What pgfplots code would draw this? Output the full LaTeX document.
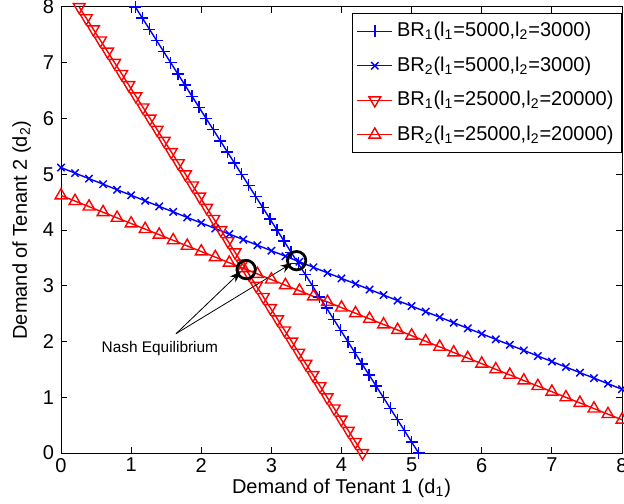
\documentclass[border=0pt]{standalone}
\usepackage{fontspec}
\setmainfont{Liberation Sans}
\usepackage{pgfplots}
\pgfplotsset{compat=1.18}
\usetikzlibrary{arrows.meta}

\begin{document}
\begin{tikzpicture}
\useasboundingbox (-30.5pt,-25pt) rectangle (281.5pt,226.5pt);
\begin{axis}[
  at={(0pt,0pt)}, anchor=south west,
  scale only axis,
  width=280.5pt, height=223pt,
  xmin=0, xmax=8, ymin=0, ymax=8,
  xtick={0,...,8}, ytick={0,...,8},
  tick align=inside,
  major tick length=3pt,
  axis line style={line width=0.5pt},
  every tick/.style={line width=0.5pt, black},
  /pgf/number format/assume math mode=true,
  ticklabel style={font=\fontsize{10}{12}\selectfont},
  xticklabel style={yshift=1pt},
  xlabel={Demand of Tenant 1 (d\textsubscript{1})},
  ylabel={Demand of Tenant 2 (d\textsubscript{2})},
  label style={font=\fontsize{10}{12}\selectfont},
  xlabel style={at={(axis description cs:0.5,-0.09)}, anchor=base},
  ylabel style={at={(axis description cs:-0.061,0.5)}, anchor=base},
  clip=false,
  legend cell align=left,
  legend style={at={(1,1)}, anchor=north east, yshift=-3pt,
    font=\fontsize{10}{12}\selectfont, draw=black, line width=0.5pt,
    inner xsep=2pt, inner ysep=2.5pt, row sep=4.5pt},
  legend image code/.code={
    \draw[mark repeat=2,mark phase=2,#1] plot coordinates {(0pt,0pt) (8.75pt,0pt) (17.5pt,0pt)};},
]
% BR1, l1=5000, l2=3000
\addplot[blue, line width=0.7pt, mark=+, mark size=3pt] coordinates {
(5.100,0.0) (4.999,0.2) (4.898,0.4) (4.797,0.6) (4.696,0.8) (4.595,1.0) (4.494,1.2) (4.393,1.4) (4.292,1.6) (4.191,1.8)
(4.090,2.0) (3.989,2.2) (3.888,2.4) (3.787,2.6) (3.686,2.8) (3.585,3.0) (3.484,3.2) (3.383,3.4) (3.282,3.6) (3.181,3.8)
(3.080,4.0) (2.979,4.2) (2.878,4.4) (2.777,4.6) (2.676,4.8) (2.575,5.0) (2.474,5.2) (2.373,5.4) (2.272,5.6) (2.171,5.8)
(2.070,6.0) (1.969,6.2) (1.868,6.4) (1.767,6.6) (1.666,6.8) (1.565,7.0) (1.464,7.2) (1.363,7.4) (1.262,7.6) (1.161,7.8)
(1.060,8.0)};
\addlegendentry{BR\textsubscript{1}(l\textsubscript{1}=5000,l\textsubscript{2}=3000)}
% BR2, l1=5000, l2=3000
\addplot[blue, line width=0.7pt, mark=x, mark size=2.6pt] coordinates {
(0.0,5.120) (0.2,5.021) (0.4,4.921) (0.6,4.822) (0.8,4.722) (1.0,4.623) (1.2,4.524) (1.4,4.424) (1.6,4.325) (1.8,4.225)
(2.0,4.126) (2.2,4.027) (2.4,3.927) (2.6,3.828) (2.8,3.728) (3.0,3.629) (3.2,3.530) (3.4,3.430) (3.6,3.331) (3.8,3.231)
(4.0,3.132) (4.2,3.033) (4.4,2.933) (4.6,2.834) (4.8,2.734) (5.0,2.635) (5.2,2.536) (5.4,2.436) (5.6,2.337) (5.8,2.237)
(6.0,2.138) (6.2,2.039) (6.4,1.939) (6.6,1.840) (6.8,1.740) (7.0,1.641) (7.2,1.542) (7.4,1.442) (7.6,1.343) (7.8,1.243)
(8.0,1.144)};
\addlegendentry{BR\textsubscript{2}(l\textsubscript{1}=5000,l\textsubscript{2}=3000)}
% BR1, l1=25000, l2=20000
\addplot[red, line width=0.7pt, mark=triangle, mark size=3.4pt, mark options={rotate=180}] coordinates {
(4.300,0.0) (4.199,0.2) (4.098,0.4) (3.997,0.6) (3.896,0.8) (3.795,1.0) (3.694,1.2) (3.593,1.4) (3.492,1.6) (3.391,1.8)
(3.290,2.0) (3.189,2.2) (3.088,2.4) (2.987,2.6) (2.886,2.8) (2.785,3.0) (2.684,3.2) (2.583,3.4) (2.482,3.6) (2.381,3.8)
(2.280,4.0) (2.179,4.2) (2.078,4.4) (1.977,4.6) (1.876,4.8) (1.775,5.0) (1.674,5.2) (1.573,5.4) (1.472,5.6) (1.371,5.8)
(1.270,6.0) (1.169,6.2) (1.068,6.4) (0.967,6.6) (0.866,6.8) (0.765,7.0) (0.664,7.2) (0.563,7.4) (0.462,7.6) (0.361,7.8)
(0.260,8.0)};
\addlegendentry{BR\textsubscript{1}(l\textsubscript{1}=25000,l\textsubscript{2}=20000)}
% BR2, l1=25000, l2=20000
\addplot[red, line width=0.7pt, mark=triangle, mark size=3.4pt] coordinates {
(0.0,4.620) (0.2,4.519) (0.4,4.419) (0.6,4.318) (0.8,4.218) (1.0,4.117) (1.2,4.016) (1.4,3.916) (1.6,3.815) (1.8,3.715)
(2.0,3.614) (2.2,3.513) (2.4,3.413) (2.6,3.312) (2.8,3.212) (3.0,3.111) (3.2,3.010) (3.4,2.910) (3.6,2.809) (3.8,2.709)
(4.0,2.608) (4.2,2.507) (4.4,2.407) (4.6,2.306) (4.8,2.206) (5.0,2.105) (5.2,2.004) (5.4,1.904) (5.6,1.803) (5.8,1.703)
(6.0,1.602) (6.2,1.501) (6.4,1.401) (6.6,1.300) (6.8,1.200) (7.0,1.099) (7.2,0.998) (7.4,0.898) (7.6,0.797) (7.8,0.697)
(8.0,0.596)};
\addlegendentry{BR\textsubscript{2}(l\textsubscript{1}=25000,l\textsubscript{2}=20000)}
% equilibria
\addplot[only marks, black, mark=o, mark size=4.6pt, line width=1.4pt, forget plot] coordinates {(3.36,3.45) (2.64,3.29)};
\draw[line width=0.4pt, -{Stealth[length=6pt,width=4pt]}] (axis cs:1.64,2.14) -- (axis cs:2.57,3.26);
\draw[line width=0.4pt, -{Stealth[length=6pt,width=4pt]}] (axis cs:1.64,2.14) -- (axis cs:3.30,3.41);
\node[anchor=base, font=\fontsize{7.7}{9}\selectfont] at (axis cs:1.41,1.80) {Nash Equilibrium};
\end{axis}
\end{tikzpicture}
\end{document}
